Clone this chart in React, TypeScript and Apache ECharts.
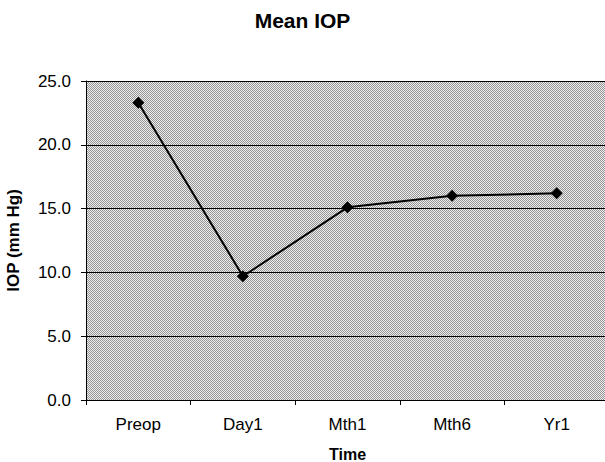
import React, { useEffect, useRef } from "react";
import * as echarts from "echarts";

const categories = ["Preop", "Day1", "Mth1", "Mth6", "Yr1"];
const meanIOP = [23.3, 9.7, 15.1, 16.0, 16.2];
const yMin = 0;
const yMax = 25;
const yInterval = 5;

function makePattern(): string {
  const c = document.createElement("canvas");
  c.width = 2;
  c.height = 2;
  const ctx = c.getContext("2d");
  if (ctx) {
    ctx.fillStyle = "#f0f0f0";
    ctx.fillRect(0, 0, 2, 2);
    ctx.fillStyle = "#929292";
    ctx.fillRect(0, 0, 1, 1);
    ctx.fillRect(1, 1, 1, 1);
  }
  return c.toDataURL();
}

export default function App() {
  const ref = useRef<HTMLDivElement>(null);
  useEffect(() => {
    document.body.style.margin = "0";
    if (!ref.current) return;
    const chart = echarts.init(ref.current, null, { renderer: "svg" });
    const font = "'Liberation Sans', Arial, Helvetica, sans-serif";
    let bg: any = "#c0c0c0";
    try {
      bg = { image: makePattern(), repeat: "repeat" };
    } catch (e) {
      bg = "#c0c0c0";
    }
    chart.setOption({
      animation: false,
      backgroundColor: "#ffffff",
      title: {
        text: "Mean IOP",
        left: "center",
        top: 5,
        textStyle: { fontFamily: font, fontSize: 21, fontWeight: "bold", color: "#000" },
      },
      grid: {
        left: 86,
        top: 81,
        width: 523,
        height: 319,
        show: true,
        backgroundColor: bg,
        borderWidth: 0,
        containLabel: false,
        outerBoundsMode: "none",
      },
      xAxis: {
        type: "category",
        data: categories,
        boundaryGap: true,
        name: "Time",
        nameLocation: "middle",
        nameGap: 46,
        nameTextStyle: { fontFamily: font, fontSize: 16, fontWeight: "bold", color: "#000" },
        axisLine: { show: true, lineStyle: { color: "#000", width: 1 } },
        axisTick: { show: true, length: 5, lineStyle: { color: "#000" } },
        axisLabel: { fontFamily: font, fontSize: 17, color: "#000", margin: 16 },
        splitLine: { show: false },
      },
      yAxis: {
        type: "value",
        min: yMin,
        max: yMax,
        interval: yInterval,
        name: "IOP (mm Hg)",
        nameLocation: "middle",
        nameGap: 64,
        nameRotate: 90,
        nameTextStyle: { fontFamily: font, fontSize: 17, fontWeight: "bold", color: "#000" },
        axisLine: { show: true, lineStyle: { color: "#000", width: 1 } },
        axisTick: { show: true, length: 5, lineStyle: { color: "#000" } },
        axisLabel: {
          fontFamily: font,
          fontSize: 17,
          color: "#000",
          margin: 15,
          formatter: (v: number) => v.toFixed(1),
        },
        splitLine: { show: true, lineStyle: { color: "#000", width: 1 } },
      },
      series: [
        {
          type: "line",
          data: meanIOP,
          symbol: "diamond",
          symbolSize: 12,
          itemStyle: { color: "#000" },
          lineStyle: { color: "#000", width: 2 },
        },
      ],
    });
    return () => chart.dispose();
  }, []);
  return <div ref={ref} style={{ width: 605, height: 462 }} />;
}
